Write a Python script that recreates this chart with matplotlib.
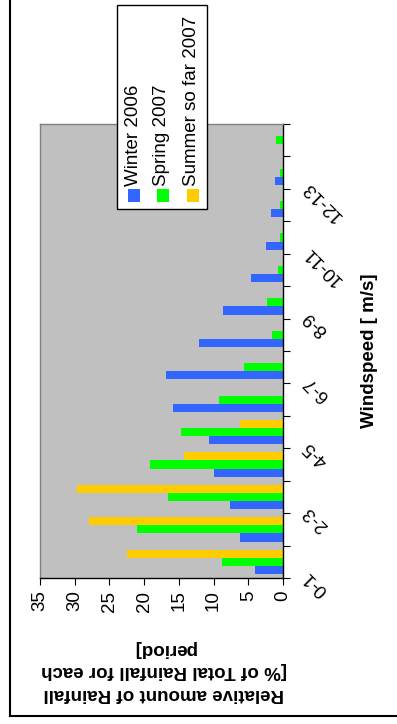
import matplotlib
matplotlib.use("Agg")
import matplotlib.pyplot as plt
import matplotlib.transforms as mtransforms
from matplotlib.patches import Rectangle
from matplotlib.lines import Line2D
import numpy as np

plt.rcParams['font.family'] = ['Liberation Sans', 'DejaVu Sans']

categories = ["0-1", "1-2", "2-3", "3-4", "4-5", "5-6", "6-7", "7-8", "8-9",
              "9-10", "10-11", "11-12", "12-13", "13-14"]
winter_2006 = [4.0, 6.2, 7.6, 9.9, 10.7, 15.8, 16.9, 12.1, 8.6, 4.6, 2.4, 1.8, 1.1, 0.0]
spring_2007 = [8.8, 21.0, 16.6, 19.2, 14.7, 9.2, 5.6, 1.6, 2.3, 0.7, 0.4, 0.4, 0.5, 1.0]
summer_2007 = [22.4, 27.9, 29.7, 14.3, 6.2, 0, 0, 0, 0, 0, 0, 0, 0, 0]
series_names = ["Winter 2006", "Spring 2007", "Summer so far 2007"]
series_colors = ["#3366FF", "#00FF00", "#FFCC00"]
value_ticks = [0, 5, 10, 15, 20, 25, 30, 35]
value_title = "Relative amount of Rainfall\n[% of Total Rainfall for each\nperiod]"
category_title = "Windspeed [ m/s]"

W, H = 397, 724
FS = 13.5
fig = plt.figure(figsize=(W / 100, H / 100), dpi=100)
fig.patch.set_facecolor("white")

def fx(x):
    return x / W

def fy(y):
    return 1 - y / H

ax = fig.add_axes([fx(40), fy(578), fx(283) - fx(40), fy(124) - fy(578)])
ax.set_facecolor("#C0C0C0")

y = np.arange(len(categories))
bh = 0.25
for i, (vals, col) in enumerate(zip([winter_2006, spring_2007, summer_2007], series_colors)):
    ax.barh(y + (i - 1) * bh, vals, height=bh, color=col, edgecolor="none", zorder=2)

ax.set_xlim(35, 0)
ax.set_ylim(-0.5, len(categories) - 0.5)

ax.set_xticks(value_ticks)
ax.set_xticklabels([str(v) for v in value_ticks], rotation=90, fontsize=FS)
ax.tick_params(axis='x', direction='out', length=5, width=0.8, pad=4, colors='black')

ax.yaxis.tick_right()
ax.set_yticks(np.arange(len(categories) + 1) - 0.5)
ax.set_yticklabels([])
ax.tick_params(axis='y', direction='out', length=5, width=0.8, which='major')

for s in ['left', 'top']:
    ax.spines[s].set_color('#808080')
    ax.spines[s].set_linewidth(1.0)
for s in ['right', 'bottom']:
    ax.spines[s].set_color('black')
    ax.spines[s].set_linewidth(1.0)

# category labels every other category
trans = mtransforms.blended_transform_factory(ax.transAxes, ax.transData)
trans = mtransforms.offset_copy(trans, fig=fig, x=23, y=-12, units='dots')
for i, c in enumerate(categories):
    if i % 2 == 0:
        ax.text(1.0, i, c, transform=trans, rotation=135, rotation_mode='anchor',
                ha='right', va='center', fontsize=FS)

fig.text(fx(370), fy(351), category_title, rotation=90, ha='center', va='center',
         fontsize=FS, fontweight='bold')
fig.text(fx(164), fy(671), value_title, rotation=180, ha='center', va='center',
         fontsize=FS, fontweight='bold', linespacing=1.4)

# legend drawn by hand (rotated)
fig.patches.append(Rectangle((fx(117), fy(209)), fx(207) - fx(117), fy(5) - fy(209),
                             transform=fig.transFigure, facecolor='white',
                             edgecolor='black', linewidth=1.0, zorder=5))
col_x = [134, 163, 192.5]
for name, col, cx in zip(series_names, series_colors, col_x):
    fig.patches.append(Rectangle((fx(cx - 6), fy(202)), fx(12), 13 / H,
                                 transform=fig.transFigure, facecolor=col,
                                 edgecolor='none', zorder=6))
    fig.text(fx(cx - 1), fy(186), name, rotation=90, ha='center', va='bottom',
             fontsize=FS, zorder=7)

# outer chart frame (left and bottom visible)
fig.lines.append(Line2D([fx(10), fx(10)], [fy(716), 1.0], transform=fig.transFigure,
                        color='black', linewidth=1.5))
fig.lines.append(Line2D([fx(10), 1.0], [fy(716), fy(716)], transform=fig.transFigure,
                        color='black', linewidth=1.5))

fig.savefig("out.png", dpi=100)
